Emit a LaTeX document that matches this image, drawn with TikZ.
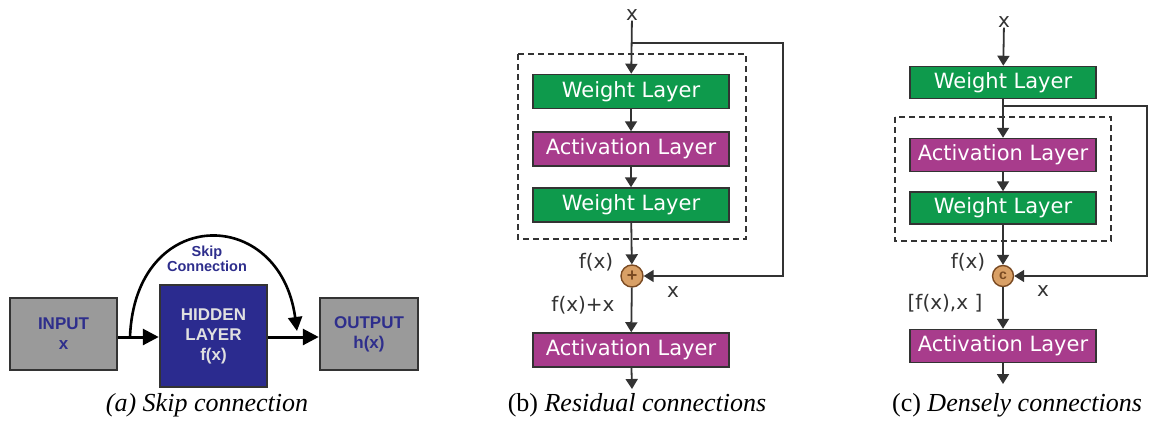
\documentclass[tikz,border=0pt]{standalone}
\usepackage{fontspec}
\setmainfont{Liberation Serif}
\newfontfamily\boxfont{DejaVu Sans}
\newfontfamily\afont{Liberation Sans}
\usetikzlibrary{arrows.meta}
\definecolor{wgreen}{HTML}{0E9A4C}
\definecolor{amag}{HTML}{A83C8C}
\definecolor{cfill}{HTML}{D9A066}
\definecolor{cdraw}{HTML}{7A4A22}
\definecolor{ink}{HTML}{333333}
\definecolor{navy}{HTML}{2E2E8C}
\definecolor{hid}{HTML}{2B2B8F}
\definecolor{gbox}{HTML}{9A9A9A}
\begin{document}
\begin{tikzpicture}[x=1pt,y=-1pt,
  layer/.style={draw=ink,line width=1.5pt,minimum height=34pt,inner sep=0pt,text=white,font=\boxfont\fontsize{21}{24}\selectfont},
  wl/.style={layer,fill=wgreen},
  al/.style={layer,fill=amag},
  lbl/.style={text=ink,inner sep=0pt,font=\boxfont\fontsize{20}{23}\selectfont},
  arr/.style={draw=ink,line width=1.8pt,-{Triangle[width=12pt,length=10pt]}},
  dbox/.style={draw=ink,line width=1.4pt,dash pattern=on 6pt off 4pt},
  op/.style={circle,draw=cdraw,fill=cfill,line width=1.4pt,minimum size=22pt,inner sep=0pt,text=cdraw,font=\afont\bfseries\fontsize{18}{18}\selectfont},
  abox/.style={draw=black!80,line width=2.5pt,inner sep=0pt,align=center,font=\afont\bfseries\fontsize{17}{20}\selectfont},
  aarr/.style={draw=black,line width=3pt,-{Triangle[width=16pt,length=16pt]}},
  captxt/.style={inner sep=0pt,font=\fontsize{26}{30}\selectfont}
]
\useasboundingbox (0,0) rectangle (1150,420);
% ---------- (a)
\node[abox,fill=gbox,text=navy,minimum width=107pt,minimum height=72pt] (in) at (63.5,334) {INPUT\\x};
\node[abox,fill=hid,text=white!88!black,minimum width=107pt,minimum height=102pt] (hl) at (213.5,336) {HIDDEN\\LAYER\\f(x)};
\node[abox,fill=gbox,text=navy,minimum width=98pt,minimum height=72pt] (out) at (369,334) {OUTPUT\\h(x)};
\draw[aarr] (in.east |- 0,337) -- (hl.west |- 0,337);
\draw[aarr] (hl.east |- 0,337) -- (out.west |- 0,337);
\coordinate (s1) at (130,337);
\coordinate (s2) at (297,331);
\draw[draw=black,line width=2.6pt,-{Triangle[width=14pt,length=14pt]}] (s1) .. controls (135,205) and (280,205) .. (s2);
\node[text=navy,align=center,inner sep=0pt,font=\afont\bfseries\fontsize{14.5}{15}\selectfont] (sk) at (207,259) {Skip\\Connection};
\node[captxt] (ca) at (207,405) {\itshape (a) Skip connection};
% ---------- (b)
\node[lbl] (xb) at (632,15) {x};
\node[wl,minimum width=196pt] (b1) at (631,91.5) {Weight Layer};
\node[al,minimum width=196pt] (b2) at (631,149) {Activation Layer};
\node[wl,minimum width=196pt] (b3) at (631,205) {Weight Layer};
\node[op] (bp) at (632,276) {+};
\node[al,minimum width=196pt] (b4) at (631,350) {Activation Layer};
\coordinate (bb) at (632,43);
\coordinate (br1) at (783,43);
\coordinate (br2) at (783,276);
\coordinate (bo) at (632,389);
\draw[dbox] (518,54) rectangle (746,239);
\draw[arr] (xb) -- (b1);
\draw[arr] (b1) -- (b2);
\draw[arr] (b2) -- (b3);
\draw[arr] (b3) -- (bp);
\draw[arr] (bp) -- (b4);
\draw[arr] (b4) -- (bo);
\draw[arr] (bb) -- (br1) -- (br2) -- (bp);
\node[lbl] (bl1) at (596,262) {f(x)};
\node[lbl] (bl2) at (673,292) {x};
\node[lbl] (bl3) at (583,305) {f(x)+x};
\node[captxt] (cb) at (637,405) {(b) \itshape Residual connections};
% ---------- (c)
\node[lbl] (xc) at (1004,22) {x};
\node[wl,minimum width=186pt,minimum height=32pt] (c1) at (1003,82.5) {Weight Layer};
\node[al,minimum width=186pt,minimum height=33pt] (c2) at (1003,155) {Activation Layer};
\node[wl,minimum width=186pt,minimum height=32pt] (c3) at (1003,208) {Weight Layer};
\node[op,minimum size=21pt,font=\afont\bfseries\fontsize{14}{14}\selectfont] (cc) at (1003,276) {c};
\node[al,minimum width=186pt,minimum height=33pt] (c4) at (1003,346) {Activation Layer};
\coordinate (cb0) at (1003,106);
\coordinate (cr1) at (1147,106);
\coordinate (cr2) at (1147,276);
\coordinate (co) at (1003,384);
\draw[dbox] (895,117) rectangle (1111,241);
\draw[arr] (xc) -- (c1);
\draw[arr] (c1) -- (c2);
\draw[arr] (c2) -- (c3);
\draw[arr] (c3) -- (cc);
\draw[arr] (cc) -- (c4);
\draw[arr] (c4) -- (co);
\draw[arr] (cb0) -- (cr1) -- (cr2) -- (cc);
\node[lbl] (cl1) at (968,262) {f(x)};
\node[lbl] (cl2) at (1043,291) {x};
\node[lbl] (cl3) at (945,303) {[f(x),x ]};
\node[captxt] (ccap) at (1017,405) {(c) \itshape Densely connections};
\end{tikzpicture}
\end{document}
